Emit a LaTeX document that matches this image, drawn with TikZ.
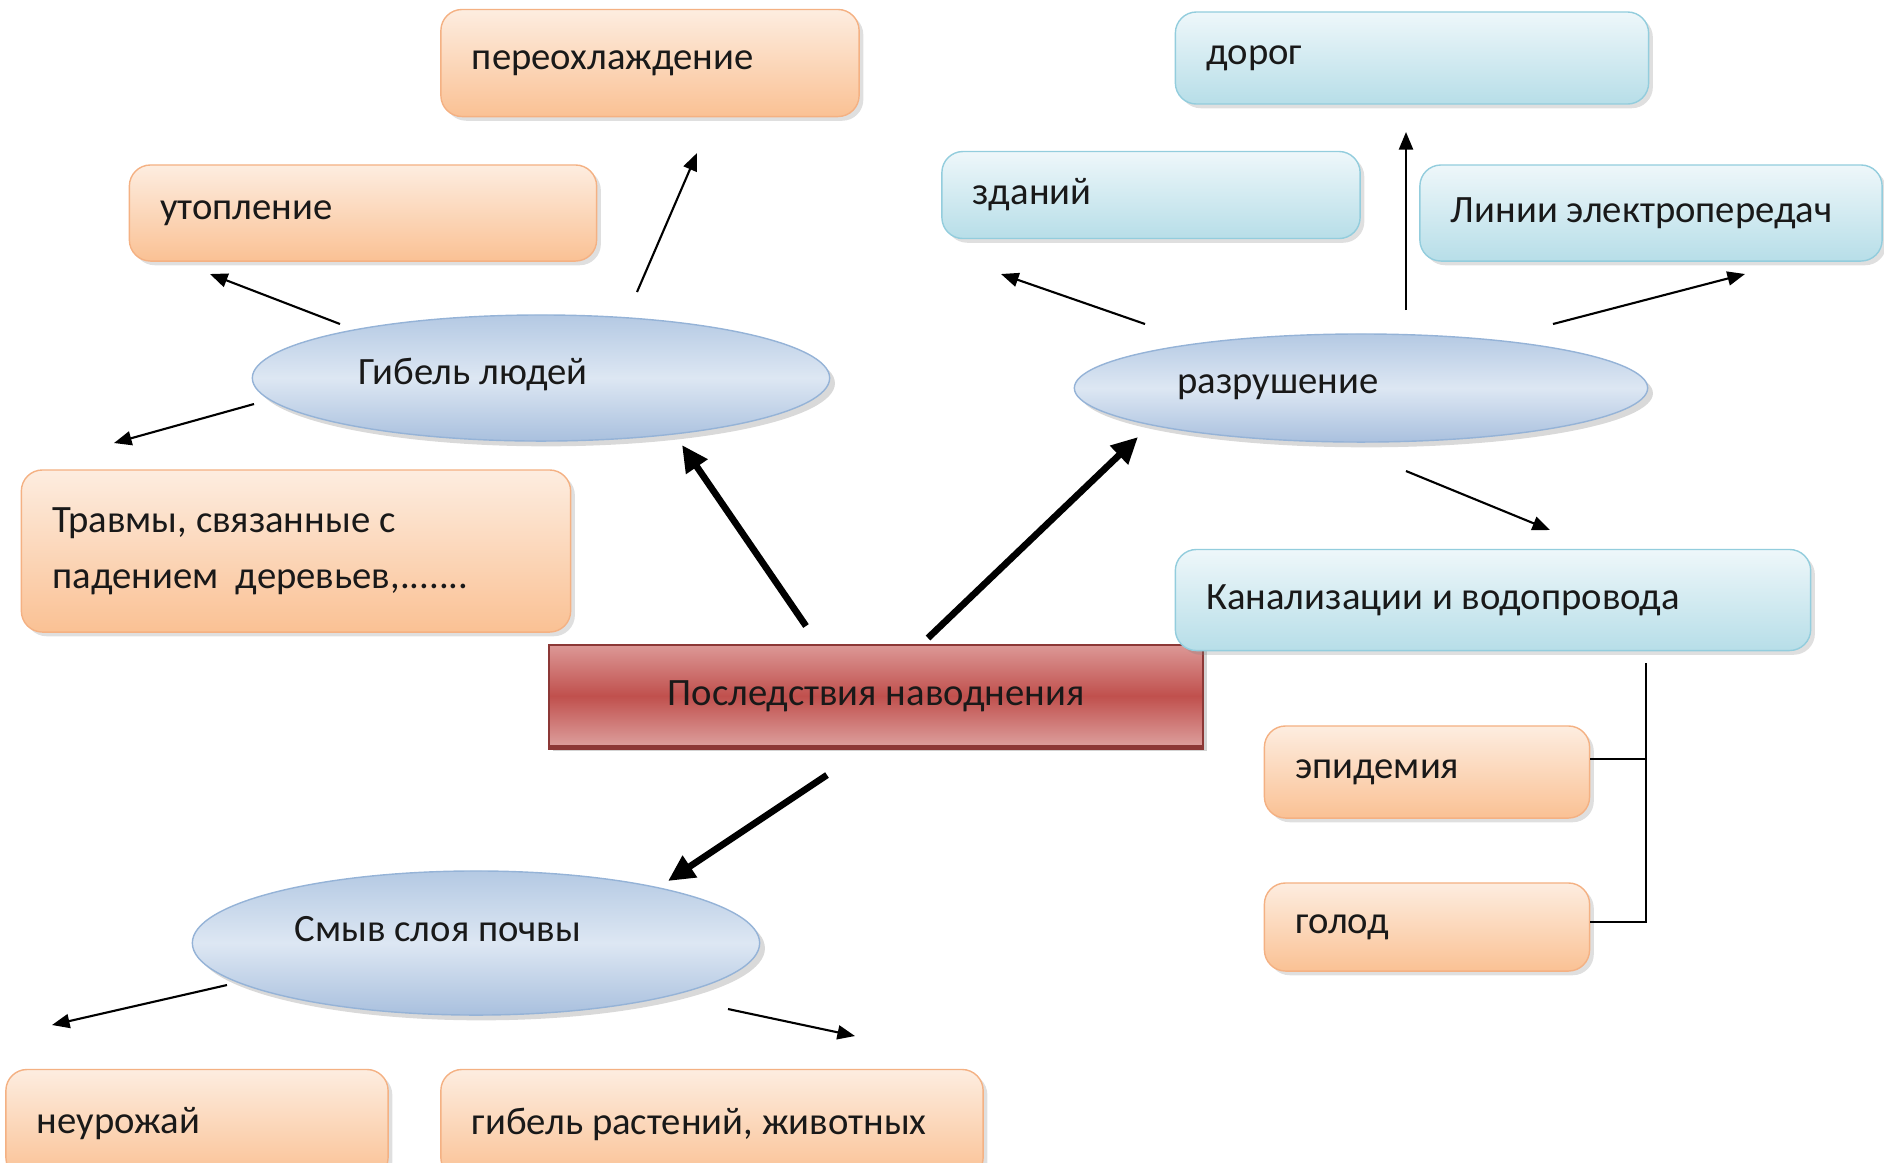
\documentclass[tikz,border=0pt]{standalone}
\usepackage{fontspec}
\setmainfont{Carlito}
\usetikzlibrary{shapes.geometric,shadows,arrows.meta}

\definecolor{orTop}{HTML}{FDEDE0}
\definecolor{orBot}{HTML}{FAC194}
\definecolor{orLine}{HTML}{F4B183}
\definecolor{blTop}{HTML}{EEF7FA}
\definecolor{blBot}{HTML}{B7DEE8}
\definecolor{blLine}{HTML}{93CDDD}
\definecolor{ovTop}{HTML}{B4C9E3}
\definecolor{ovMid}{HTML}{DDE7F3}
\definecolor{ovBot}{HTML}{A9C0DE}
\definecolor{ovLine}{HTML}{95B3D7}
\definecolor{rdTop}{HTML}{DC9896}
\definecolor{rdMid}{HTML}{C0504D}
\definecolor{rdBot}{HTML}{DDA09E}
\definecolor{rdLine}{HTML}{8C3836}

\tikzset{
  every node/.style={font=\fontsize{11}{16}\selectfont, text=black!90},
  orbox/.style={rectangle, rounded corners=6pt, draw=orLine, top color=orTop, bottom color=orBot,
    inner xsep=0.31cm, align=flush left,
    drop shadow={shadow xshift=1.2pt, shadow yshift=-1.2pt, opacity=0.25}},
  bluebox/.style={rectangle, rounded corners=6pt, draw=blLine, top color=blTop, bottom color=blBot,
    inner xsep=0.31cm, align=flush left,
    drop shadow={shadow xshift=1.2pt, shadow yshift=-1.2pt, opacity=0.25}},
  oval/.style={ellipse, draw=ovLine, top color=ovTop, bottom color=ovBot, middle color=ovMid,
    inner sep=0pt, drop shadow={shadow xshift=1.5pt, shadow yshift=-1.5pt, opacity=0.3}},
  mainbox/.style={rectangle, draw=rdLine, top color=rdTop, bottom color=rdBot, middle color=rdMid,
    drop shadow={shadow xshift=1.2pt, shadow yshift=-1.2pt, opacity=0.35}},
  arr/.style={draw=black, line width=0.6pt, -{Triangle[length=5pt,width=4pt]}},
  bigarr/.style={draw=black, line width=1.9pt, -{Triangle[length=7.5pt,width=7pt]}},
}

\begin{document}
\begin{tikzpicture}[x=0.01cm, y=-0.01cm]
\useasboundingbox (0,0) rectangle (1884,1162);

% orange boxes
\node[orbox, minimum width=4.18cm, minimum height=1.07cm, text width=3.56cm] (pereoh) at (650,63) {переохлаждение};
\node[orbox, minimum width=4.67cm, minimum height=0.96cm, text width=4.05cm] (utopl) at (363,213) {утопление};
\node[orbox, minimum width=5.49cm, minimum height=1.62cm, text width=4.87cm] (travm) at (296,551) {Травмы, связанные с\\падением\ \ деревьев,.......};
\node[orbox, minimum width=3.25cm, minimum height=0.92cm, text width=2.63cm] (epid) at (1427,772) {эпидемия};
\node[orbox, minimum width=3.25cm, minimum height=0.88cm, text width=2.63cm] (golod) at (1427,927) {голод};
\node[orbox, minimum width=3.82cm, minimum height=1.09cm, text width=3.20cm] (neur) at (197,1124) {неурожай};
\node[orbox, minimum width=5.42cm, minimum height=1.09cm, text width=4.80cm] (gibr) at (712,1124) {гибель растений, животных};

% blue boxes
\node[bluebox, minimum width=4.73cm, minimum height=0.92cm, text width=4.11cm] (dorog) at (1412,58) {дорог};
\node[bluebox, minimum width=4.18cm, minimum height=0.87cm, text width=3.56cm] (zdan) at (1151,195) {зданий};
\node[bluebox, minimum width=4.62cm, minimum height=0.96cm, text width=4.00cm] (linii) at (1651,213) {Линии электропередач};

% ovals
\node[oval, minimum width=5.77cm, minimum height=1.26cm] (gibl) at (541,378) {};
\node (gibltxt) at (473,374) {Гибель людей};
\node[oval, minimum width=5.73cm, minimum height=1.08cm] (razr) at (1361,388) {};
\node (razrtxt) at (1278,387) {разрушение};
\node[oval, minimum width=5.67cm, minimum height=1.44cm] (smyv) at (476,943) {};
\node (smyvtxt) at (438,929) {Смыв слоя почвы};

% main box
\node[mainbox, minimum width=6.54cm, minimum height=1.02cm] (posl) at (876,696) {Последствия наводнения};
\draw[rdLine, line width=1.5pt] (posl.south west) -- (posl.south east);

\node[bluebox, minimum width=6.35cm, minimum height=1.01cm, text width=5.73cm] (kanal) at (1493,600) {Канализации и водопровода};

% thick arrows
\coordinate (s1) at (806,626); \coordinate (e1) at (682,445);
\coordinate (s2) at (928,638); \coordinate (e2) at (1138,437);
\coordinate (s3) at (827,775); \coordinate (e3) at (668,881);
\draw[bigarr] (s1) -- (e1);
\draw[bigarr] (s2) -- (e2);
\draw[bigarr] (s3) -- (e3);

% thin arrows
\coordinate (g1) at (340,324); \coordinate (ut1) at (210,274);
\coordinate (g2) at (637,292); \coordinate (ph1) at (697,153);
\coordinate (g3) at (254,404); \coordinate (tr1) at (114,443);
\coordinate (r1) at (1145,324); \coordinate (zd1) at (1001,274);
\coordinate (r2) at (1406,310); \coordinate (do1) at (1406,132);
\coordinate (r3) at (1553,324); \coordinate (li1) at (1745,274);
\coordinate (r4) at (1406,471); \coordinate (ka1) at (1550,530);
\coordinate (sm1) at (227,985); \coordinate (nu1) at (52,1025);
\coordinate (sm2) at (728,1009); \coordinate (gr1) at (855,1036);
\draw[arr] (g1) -- (ut1);
\draw[arr] (g2) -- (ph1);
\draw[arr] (g3) -- (tr1);
\draw[arr] (r1) -- (zd1);
\draw[arr] (r2) -- (do1);
\draw[arr] (r3) -- (li1);
\draw[arr] (r4) -- (ka1);
\draw[arr] (sm1) -- (nu1);
\draw[arr] (sm2) -- (gr1);

% bracket
\coordinate (kb) at (1646,663);
\draw[line width=0.6pt] (kb) |- ([yshift=0.13cm]epid.east);
\draw[line width=0.6pt] (kb) |- ([yshift=0.05cm]golod.east);
\end{tikzpicture}
\end{document}
